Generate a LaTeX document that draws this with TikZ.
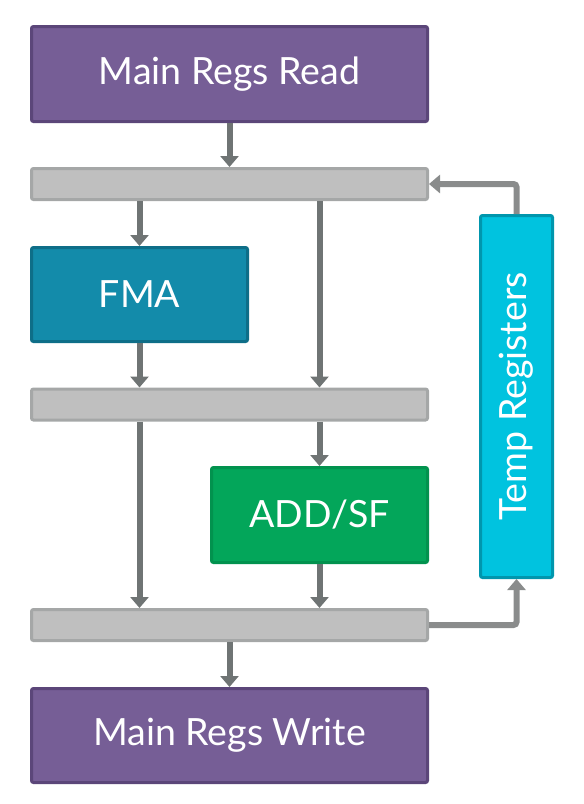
\documentclass[tikz,border=0pt]{standalone}
\usepackage{fontspec}
\setmainfont{Lato}
\usetikzlibrary{arrows.meta}

\definecolor{regfill}{HTML}{765E96}
\definecolor{regline}{HTML}{5B4679}
\definecolor{fmafill}{HTML}{138BAA}
\definecolor{fmaline}{HTML}{0E6E88}
\definecolor{addfill}{HTML}{03A65A}
\definecolor{addline}{HTML}{02924E}
\definecolor{tempfill}{HTML}{00C3DF}
\definecolor{templine}{HTML}{0096AD}
\definecolor{latchfill}{HTML}{BFBFBF}
\definecolor{latchline}{HTML}{A5A7A7}
\definecolor{flowcol}{HTML}{6F7474}
\definecolor{loopcol}{HTML}{8A8C8C}

\tikzset{
  unitbox/.style 2 args={draw=#2, fill=#1, line width=3pt, rounded corners=2pt,
    text=white, font=\fontsize{37.5}{42}\selectfont, inner sep=0pt},
  latchbar/.style={draw=latchline, fill=latchfill, line width=3pt, rounded corners=2pt,
    minimum width=396pt, minimum height=31pt, inner sep=0pt},
  flow/.style={draw=flowcol, line width=6pt, -{Triangle[width=18pt,length=11pt]}},
  loopflow/.style={draw=loopcol, line width=6pt, -{Triangle[width=18pt,length=11pt]}}
}

\begin{document}
\begin{tikzpicture}[x=1pt,y=-1pt]
  \useasboundingbox (0,0) rectangle (584,804);

  % register files
  \node[unitbox={regfill}{regline}, minimum width=396pt, minimum height=95pt] (read) at (229.5,74) {Main Regs Read};
  \node[unitbox={regfill}{regline}, minimum width=396pt, minimum height=94pt] (write) at (229.5,735.5) {Main Regs Write};

  % latches
  \node[latchbar] (bar1) at (229.5,184) {};
  \node[latchbar] (bar2) at (229.5,404.5) {};
  \node[latchbar] (bar3) at (229.5,625) {};

  % units
  \node[unitbox={fmafill}{fmaline}, minimum width=216pt, minimum height=94pt] (fma) at (139.5,294.5) {FMA};
  \node[unitbox={addfill}{addline}, minimum width=216pt, minimum height=95pt] (add) at (319.5,515) {ADD/SF};
  \node[unitbox={tempfill}{templine}, minimum width=72pt, minimum height=362pt] (temp) at (516.5,396.5) {};
  \node[text=white, font=\fontsize{37.5}{42}\selectfont, rotate=90] (templabel) at (temp.center) {Temp Registers};

  % data flow
  \draw[flow] (read.south) -- (bar1.north);
  \draw[flow] (bar1.south -| fma.north) -- (fma.north);
  \draw[flow] (bar1.south -| add.north) -- (bar2.north -| add.north);
  \draw[flow] (fma.south) -- (bar2.north -| fma.south);
  \draw[flow] (bar2.south -| fma.south) -- (bar3.north -| fma.south);
  \draw[flow] (bar2.south -| add.north) -- (add.north);
  \draw[flow] (add.south) -- (bar3.north -| add.south);
  \draw[flow] (bar3.south) -- (write.north);

  % feedback through temp registers
  \draw[loopflow, rounded corners=3pt] (bar3.east) -| (temp.south);
  \draw[loopflow, rounded corners=3pt] (temp.north) |- (bar1.east);
\end{tikzpicture}
\end{document}
